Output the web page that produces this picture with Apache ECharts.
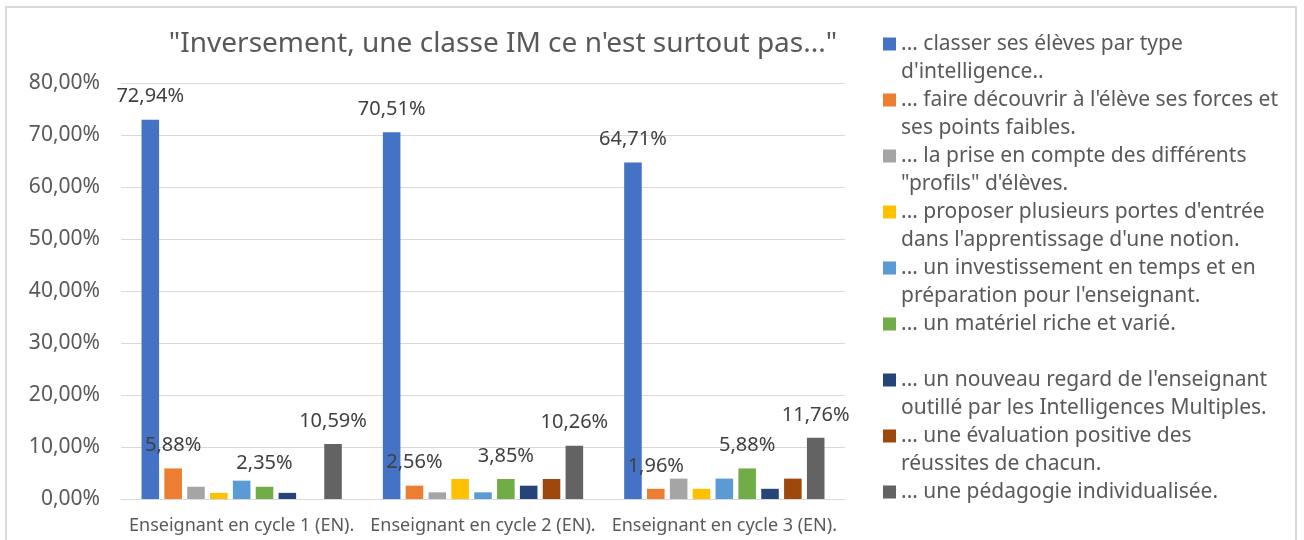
<!DOCTYPE html>
<html>
<head>
<meta charset="utf-8">
<script src="https://cdn.jsdelivr.net/npm/echarts@6/dist/echarts.min.js"></script>
<style>
  html, body { margin: 0; padding: 0; background: #fff; }
  #main { width: 1304px; height: 540px; }
</style>
</head>
<body>
<div id="main"></div>
<script>
// categories (x axis)
var categories = ['Enseignant en cycle 1 (EN).', 'Enseignant en cycle 2 (EN).', 'Enseignant en cycle 3 (EN).'];

// series names
var seriesNames = [
  "... classer ses élèves par type d'intelligence..",
  "... faire découvrir à l'élève ses forces et ses points faibles.",
  '... la prise en compte des différents "profils" d\'élèves.',
  "... proposer plusieurs portes d'entrée dans l'apprentissage d'une notion.",
  "... un investissement en temps et en préparation pour l'enseignant.",
  "... un matériel riche et varié.",
  "... un nouveau regard de l'enseignant outillé par les Intelligences Multiples.",
  "... une évaluation positive des réussites de chacun.",
  "... une pédagogie individualisée."
];

// legend text as it wraps in the picture
var legendLines = [
  "... classer ses élèves par type\nd'intelligence..",
  "... faire découvrir à l'élève ses forces et\nses points faibles.",
  '... la prise en compte des différents\n"profils" d\'élèves.',
  "... proposer plusieurs portes d'entrée\ndans l'apprentissage d'une notion.",
  "... un investissement en temps et en\npréparation pour l'enseignant.",
  "... un matériel riche et varié.\n ",
  "... un nouveau regard de l'enseignant\noutillé par les Intelligences Multiples.",
  "... une évaluation positive des\nréussites de chacun.",
  "... une pédagogie individualisée.\n "
];

// values (%)
var classer      = [72.94, 70.51, 64.71];
var forces       = [5.88, 2.56, 1.96];
var profils      = [2.35, 1.28, 3.92];
var portes       = [1.18, 3.85, 1.96];
var investiss    = [3.53, 1.28, 3.92];
var materiel     = [2.35, 3.85, 5.88];
var regard       = [1.18, 2.56, 1.96];
var evaluation   = [0, 3.85, 3.92];
var pedagogie    = [10.59, 10.26, 11.76];

var values = [classer, forces, profils, portes, investiss, materiel, regard, evaluation, pedagogie];
var colors = ['#4472C4', '#ED7D31', '#A5A5A5', '#FFC000', '#5B9BD5', '#70AD47', '#264478', '#9E480E', '#636363'];
// which series carry data labels in the original
var labelled = [0, 1, 5, 8];

var yTicks = [0, 10, 20, 30, 40, 50, 60, 70, 80];

var font = 'Noto Sans';

function pct(v) {
  return v.toFixed(2).replace('.', ',') + '%';
}

var series = values.map(function (d, i) {
  return {
    name: seriesNames[i],
    type: 'bar',
    data: d,
    barGap: '30%',
    barCategoryGap: '17%',
    itemStyle: { color: colors[i] },
    label: {
      show: labelled.indexOf(i) >= 0,
      position: 'top',
      distance: 13,
      formatter: function (p) { return pct(p.value); },
      fontFamily: font,
      fontSize: 20,
      color: '#404040'
    }
  };
});

var chart = echarts.init(document.getElementById('main'));

chart.setOption({
  animation: false,
  title: {
    text: '"Inversement, une classe IM ce n\'est surtout pas..."',
    left: 503,
    top: 30,
    padding: 0,
    textAlign: 'center',
    textStyle: { fontFamily: font, fontSize: 28, fontWeight: 'normal', color: '#595959' }
  },
  legend: {
    orient: 'vertical',
    left: 883,
    top: 30,
    padding: 0,
    itemGap: 0,
    itemWidth: 13,
    itemHeight: 41,
    icon: 'path://M0,0H13V13H0Z M0,41H0.01',
    data: seriesNames,
    formatter: function (name) { return legendLines[seriesNames.indexOf(name)]; },
    textStyle: { fontFamily: font, fontSize: 21, lineHeight: 28, color: '#595959' }
  },
  grid: { left: 121, right: 459, top: 83, bottom: 41 },
  xAxis: {
    type: 'category',
    data: categories,
    axisTick: { show: false },
    axisLine: { lineStyle: { color: '#d9d9d9', width: 1 } },
    axisLabel: { interval: 0, margin: 18, fontFamily: font, fontSize: 18, color: '#595959' }
  },
  yAxis: {
    type: 'value',
    min: yTicks[0],
    max: yTicks[yTicks.length - 1],
    interval: 10,
    axisLine: { show: false },
    axisTick: { show: false },
    splitLine: { lineStyle: { color: '#d9d9d9', width: 1 } },
    axisLabel: { margin: 21, fontFamily: font, fontSize: 21, color: '#595959', formatter: pct }
  },
  graphic: [{
    type: 'rect',
    shape: { x: 6, y: 7, width: 1290, height: 560 },
    style: { fill: 'none', stroke: '#d9d9d9', lineWidth: 2 },
    silent: true
  }],
  series: series
});
</script>
</body>
</html>
